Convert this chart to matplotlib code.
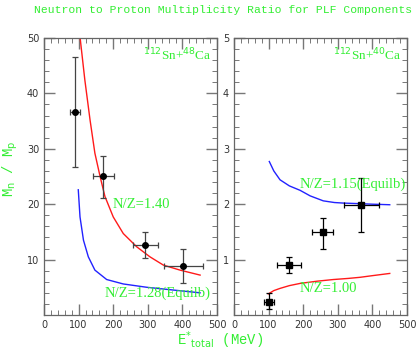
import matplotlib
matplotlib.use('Agg')
import matplotlib.pyplot as plt
from matplotlib.ticker import MultipleLocator

GREEN = '#33ee33'

# --- левая панель: 112Sn+48Ca ---
left_x = [90, 171, 292, 403]
left_y = [36.6, 25.0, 12.6, 8.85]
left_xerr = [15, 30, 36, 55]
left_yerr_lo = [9.8, 3.9, 2.3, 3.05]
left_yerr_hi = [9.9, 3.75, 2.3, 3.15]

left_red_x = [104, 118, 133, 147, 162, 176, 200, 229, 268, 306, 345, 393, 451]
left_red_y = [50.2, 42.4, 35.2, 29.2, 25.0, 21.4, 17.7, 14.7, 12.3, 10.5, 9.0, 8.1, 7.2]
left_blue_x = [99, 104, 114, 128, 147, 181, 229, 297, 374, 451]
left_blue_y = [22.6, 17.7, 13.5, 10.5, 8.1, 6.4, 5.6, 5.0, 4.5, 4.0]

# --- правая панель: 112Sn+40Ca ---
right_x = [102, 160, 256, 368]
right_y = [0.24, 0.91, 1.49, 1.98]
right_xerr = [15, 35, 30, 50]
right_yerr_lo = [0.14, 0.15, 0.29, 0.49]
right_yerr_hi = [0.15, 0.14, 0.26, 0.49]

right_blue_x = [102, 115, 133, 160, 191, 220, 258, 290, 316, 360, 400, 450]
right_blue_y = [2.77, 2.60, 2.44, 2.33, 2.25, 2.15, 2.06, 2.03, 2.02, 2.01, 2.0, 1.99]
right_red_x = [99, 115, 133, 160, 191, 240, 287, 330, 364, 400, 450]
right_red_y = [0.38, 0.44, 0.48, 0.53, 0.57, 0.61, 0.64, 0.66, 0.68, 0.71, 0.75]


def style_axes(ax, ymax, ymajor, yminor):
    ax.set_xlim(0, 500)
    ax.set_ylim(0, ymax)
    ax.xaxis.set_major_locator(MultipleLocator(100))
    ax.xaxis.set_minor_locator(MultipleLocator(20))
    ax.yaxis.set_minor_locator(MultipleLocator(yminor))
    # ноль по y не подписывается
    ax.set_yticks([ymajor * k for k in range(1, int(round(ymax / ymajor)) + 1)])
    ax.tick_params(which='both', direction='in', top=True, right=True,
                   color='#777777', labelcolor='#333333', labelsize=7)
    ax.tick_params(which='major', length=8, width=1.0)
    ax.tick_params(which='minor', length=3.5, width=0.7)
    for s in ax.spines.values():
        s.set_color('#666666')
        s.set_linewidth(0.9)


fig = plt.figure(figsize=(4.16, 3.59), dpi=100)
ax1 = fig.add_axes([0.1058, 0.1226, 0.416, 0.7716])
ax2 = fig.add_axes([0.5625, 0.1226, 0.416, 0.7716])

style_axes(ax1, 50, 10, 2)
style_axes(ax2, 5, 1, 0.2)

ax1.plot(left_red_x, left_red_y, color='#ff1a1a', lw=1.0)
ax1.plot(left_blue_x, left_blue_y, color='#2222ff', lw=1.0)
ax1.errorbar(left_x, left_y, xerr=left_xerr, yerr=[left_yerr_lo, left_yerr_hi],
             fmt='o', color='black', ms=4, ecolor='#444444', elinewidth=0.9,
             capsize=2, capthick=0.9)

ax2.plot(right_blue_x, right_blue_y, color='#2222ff', lw=1.0)
ax2.plot(right_red_x, right_red_y, color='#ff1a1a', lw=1.0)
ax2.errorbar(right_x, right_y, xerr=right_xerr, yerr=[right_yerr_lo, right_yerr_hi],
             fmt='s', color='black', ms=4, ecolor='black', elinewidth=0.9,
             capsize=2, capthick=0.9)

serif = 'Liberation Serif'
ax1.text(485, 46.9, r'$^{112}$Sn+$^{48}$Ca', color=GREEN, family=serif,
         fontsize=9.5, ha='right', va='center')
ax2.text(485, 4.69, r'$^{112}$Sn+$^{40}$Ca', color=GREEN, family=serif,
         fontsize=9.5, ha='right', va='center')
ax1.text(198, 20.0, 'N/Z=1.40', color=GREEN, family=serif, fontsize=10.5,
         ha='left', va='center')
ax1.text(176, 4.0, 'N/Z=1.28(Equilb)', color=GREEN, family=serif, fontsize=10.5,
         ha='left', va='center', clip_on=True)
ax2.text(189, 2.36, 'N/Z=1.15(Equilb)', color=GREEN, family=serif, fontsize=10.5,
         ha='left', va='center')
ax2.text(189, 0.48, 'N/Z=1.00', color=GREEN, family=serif, fontsize=10.5,
         ha='left', va='center')

fig.text(0.537, 0.985, 'Neutron to Proton Multiplicity Ratio for PLF Components',
         color=GREEN, family='Liberation Mono', fontsize=8.2, ha='center', va='top')
fig.text(0.025, 0.53, r'M$_{\rm n}$ / M$_{\rm p}$', color=GREEN,
         family='Liberation Mono', fontsize=10, rotation=90, ha='center', va='center')
fig.text(0.53, 0.052, r'E$^{*}$$_{\rm total}$ (MeV)', color=GREEN,
         family='Liberation Mono', fontsize=10, ha='center', va='center')

fig.savefig('out.png', dpi=100)
